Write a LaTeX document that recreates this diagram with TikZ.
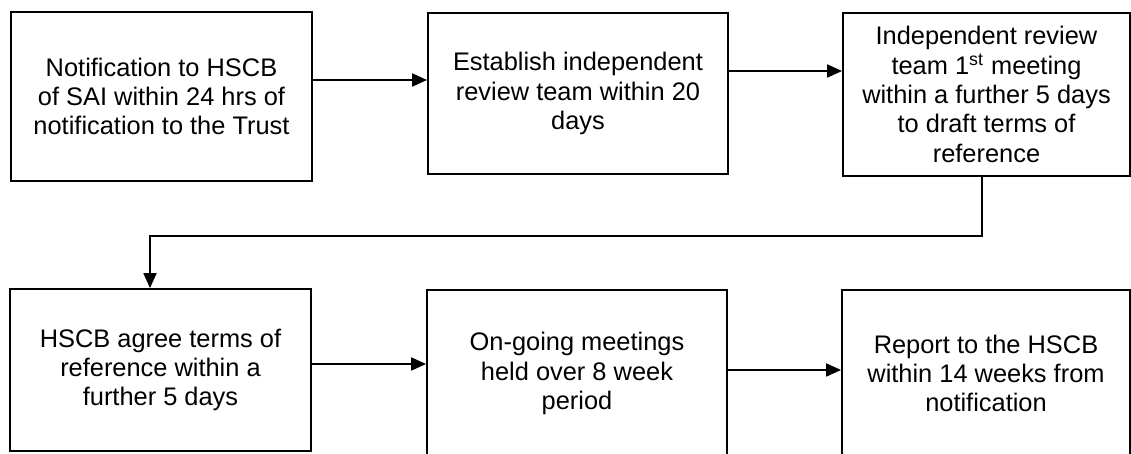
\documentclass[tikz,border=0pt]{standalone}
\usepackage{fontspec}
\setmainfont{Liberation Sans}
\usepackage{tikz}
\usetikzlibrary{arrows.meta,positioning}

\begin{document}
\begin{tikzpicture}[x=0.5pt,y=-0.5pt]
\tikzset{stage/.style={draw, line width=0.9pt, align=center, inner sep=2pt,
font=\fontsize{12.7}{14.7}\selectfont}}
\tikzset{flow/.style={draw, line width=0.9pt,
-{Triangle[length=7.5pt,width=6.5pt]}}}
\useasboundingbox (0,0) rectangle (1131,454);
\node[stage, minimum width=150.5pt, minimum height=84.5pt] (notify) at (161.5,96.5)
{Notification to HSCB\\of SAI within 24 hrs of\\notification to the Trust};
\node[stage, minimum width=150pt, minimum height=80.5pt] (establish) at (578,93.5)
{Establish independent\\review team within 20\\days};
\node[stage, minimum width=143.5pt, minimum height=81.5pt] (firstmeet) at (986.5,94.5)
{Independent review\\team 1\textsuperscript{st} meeting\\within a further 5 days\\to draft terms of\\reference};
\node[stage, minimum width=150.5pt, minimum height=81pt] (agree) at (160.5,370)
{HSCB agree terms of\\reference within a\\further 5 days};
\node[stage, minimum width=150pt, minimum height=83.5pt] (ongoing) at (577,373.5)
{On-going meetings\\held over 8 week\\period};
\node[stage, minimum width=144pt, minimum height=83.5pt] (report) at (986,373.5)
{Report to the HSCB\\within 14 weeks from\\notification};
\draw[flow] ([yshift=8.25pt]notify.east) coordinate (n1) -- (n1 -| establish.west);
\draw[flow] ([yshift=11.25pt]establish.east) coordinate (n2) -- (n2 -| firstmeet.west);
\draw[flow] ([xshift=-2.25pt]firstmeet.south) -- ++(0,59) -| ([xshift=-5.25pt]agree.north);
\draw[flow] ([yshift=3pt]agree.east) coordinate (n3) -- (n3 -| ongoing.west);
\draw[flow] ([yshift=1.75pt]ongoing.east) coordinate (n4) -- (n4 -| report.west);
\end{tikzpicture}
\end{document}
